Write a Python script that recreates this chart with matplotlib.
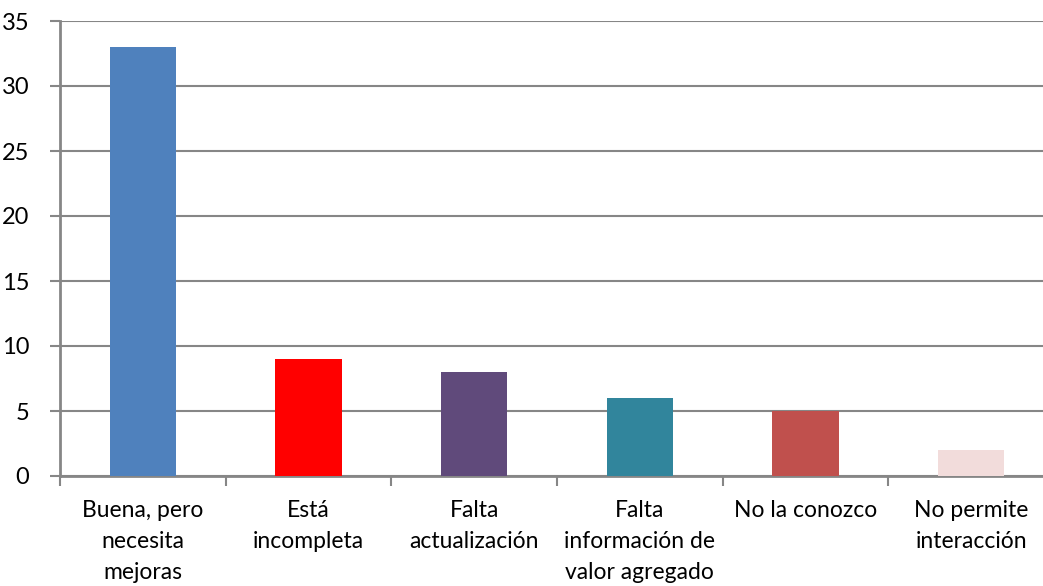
import matplotlib.pyplot as plt
import numpy as np

# --- Data ---
categories = [
    "Buena, pero\nnecesita\nmejoras",
    "Está\nincompleta",
    "Falta\nactualización",
    "Falta\ninformación de\nvalor agregado",
    "No la conozco",
    "No permite\ninteracción",
]
values = [33, 9, 8, 6, 5, 2]
bar_colors = ["#4F81BD", "#FF0000", "#604A7B", "#31859C", "#C0504D", "#F2DCDB"]
y_ticks = [0, 5, 10, 15, 20, 25, 30, 35]

GRID = "#868686"

plt.rcParams["font.family"] = ["Lato", "DejaVu Sans"]

fig = plt.figure(figsize=(10.43, 5.86), dpi=100)
ax = fig.add_axes([60 / 1043, 110 / 586, 994 / 1043, 455 / 586])

x = np.arange(len(categories))
ax.bar(x, values, width=0.4, color=bar_colors, zorder=3)

ax.set_xlim(-0.5, len(categories) - 0.5)
ax.set_ylim(0, 35)
ax.set_yticks(y_ticks)
ax.yaxis.grid(True, color=GRID, linewidth=1.5, zorder=1)

# category labels at centres, tick marks at boundaries
ax.set_xticks(x)
ax.set_xticklabels(categories, fontsize=16.5, linespacing=1.6, va="top")
ax.set_xticks(np.arange(-0.5, len(categories)), minor=True)
ax.tick_params(axis="x", which="major", length=0, pad=17)
ax.tick_params(axis="x", which="minor", length=7, width=1.5, color=GRID, direction="out")
ax.tick_params(axis="y", length=7, width=1.5, color=GRID, direction="out", labelsize=17, pad=15)

for side in ["top", "right"]:
    ax.spines[side].set_visible(False)
for side in ["left", "bottom"]:
    ax.spines[side].set_color(GRID)
    ax.spines[side].set_linewidth(2)

fig.savefig("out.png", dpi=100)
